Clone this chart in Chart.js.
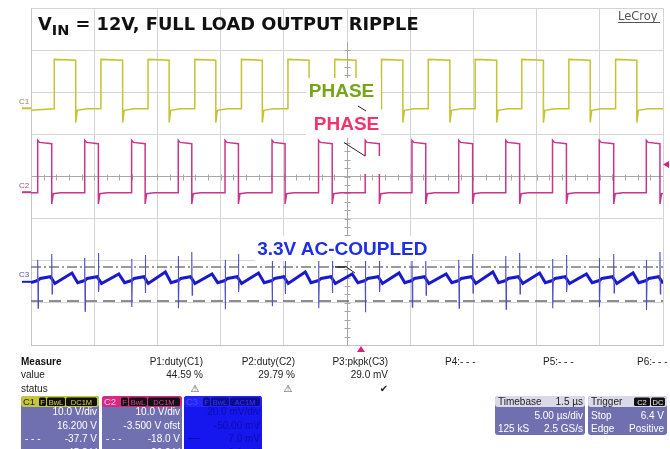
<!DOCTYPE html>
<html>
<head>
<meta charset="utf-8">
<title>Full load output ripple</title>
<script src="https://cdn.jsdelivr.net/npm/chart.js"></script>
<style>
  body { margin: 0; background: #fff; }
  #wrap { position: relative; width: 670px; height: 449px; overflow: hidden; }
  #scope, #overlay { position: absolute; left: 0; top: 0; }
  #overlay text { font-family: "Liberation Sans", Arial, sans-serif; }
</style>
</head>
<body>
<div id="wrap">
  <canvas id="scope" width="670" height="449"></canvas>
  <svg id="overlay" width="670" height="449">
    <!-- title -->
    <text x="38" y="30" style="font-family:'DejaVu Sans';font-weight:bold;font-size:17.8px" fill="#111">V<tspan dy="5" style="font-size:14.5px">IN</tspan><tspan dy="-5"> = 12V, FULL LOAD OUTPUT RIPPLE</tspan></text>
    <text x="618" y="20" style="font-family:'DejaVu Sans';font-size:11.5px" fill="#555">LeCroy</text>
    <line x1="618" y1="22.5" x2="660" y2="22.5" stroke="#555" stroke-width="1"/>

    <!-- trace annotations -->
    <rect x="306" y="78" width="75" height="60" fill="#fff"/>
    <rect x="361" y="156" width="21" height="18" fill="#fff"/>
    <text x="341.5" y="97" text-anchor="middle" style="font-weight:bold;font-size:19px" fill="#78a418">PHASE</text>
    <text x="346.5" y="130" text-anchor="middle" style="font-weight:bold;font-size:19px" fill="#f2346c">PHASE</text>
    <line x1="344" y1="142.5" x2="365" y2="156" stroke="#222" stroke-width="1"/>
    <line x1="358" y1="106" x2="366" y2="111" stroke="#222" stroke-width="1"/>
    <rect x="255" y="236" width="176" height="25" fill="#fff"/>
    <text x="342.3" y="255" text-anchor="middle" style="font-weight:bold;font-size:19px" fill="#1f2ee8">3.3V AC-COUPLED</text>
    <line x1="335" y1="267" x2="345" y2="267" stroke="#222" stroke-width="1.5"/>
    <line x1="345" y1="266" x2="355" y2="273" stroke="#222" stroke-width="1"/>

    <!-- channel ground markers -->
    <text x="19" y="104" style="font-size:8px" fill="#8c8c50">C1</text>
    <line x1="22" y1="108.3" x2="31" y2="108.3" stroke="#c4c430" stroke-width="2"/>
    <text x="19" y="188" style="font-size:8px" fill="#a05080">C2</text>
    <line x1="22" y1="192.2" x2="31" y2="192.2" stroke="#c8368a" stroke-width="2"/>
    <text x="19" y="277" style="font-size:8px" fill="#5050a0">C3</text>
    <line x1="22" y1="281.8" x2="31" y2="281.8" stroke="#1a1acc" stroke-width="2"/>

    <!-- trigger markers -->
    <polygon points="663,164.5 669,161 669,168" fill="#d6207a"/>
    <polygon points="361,346 357,352 365,352" fill="#d6207a"/>

    <!-- measurements -->
    <text x="21" y="365" style="font-weight:bold;font-size:10px" fill="#111">Measure</text>
    <text x="21" y="378" style="font-size:10px" fill="#222">value</text>
    <text x="21" y="392" style="font-size:10px" fill="#222">status</text>
    <text x="203" y="365" text-anchor="end" style="font-size:10px" fill="#222">P1:duty(C1)</text>
    <text x="203" y="378" text-anchor="end" style="font-size:10px" fill="#222">44.59 %</text>
    <text x="195" y="392" text-anchor="middle" style="font-family:'DejaVu Sans';font-size:10px" fill="#555">⚠</text>
    <text x="295" y="365" text-anchor="end" style="font-size:10px" fill="#222">P2:duty(C2)</text>
    <text x="295" y="378" text-anchor="end" style="font-size:10px" fill="#222">29.79 %</text>
    <text x="288" y="392" text-anchor="middle" style="font-family:'DejaVu Sans';font-size:10px" fill="#555">⚠</text>
    <text x="388" y="365" text-anchor="end" style="font-size:10px" fill="#222">P3:pkpk(C3)</text>
    <text x="388" y="378" text-anchor="end" style="font-size:10px" fill="#222">29.0 mV</text>
    <text x="384" y="392" text-anchor="middle" style="font-family:'DejaVu Sans';font-size:10px" fill="#222">✔</text>
    <text x="445" y="365" style="font-size:10px" fill="#222">P4:- - -</text>
    <text x="543" y="365" style="font-size:10px" fill="#222">P5:- - -</text>
    <text x="637" y="365" style="font-size:10px" fill="#222">P6:- - -</text>

    <!-- C1 box -->
    <rect x="21" y="396" width="78" height="64" rx="3" fill="#7070b0"/>
    <rect x="21" y="396" width="78" height="11" rx="3" fill="#c6c63c"/>
    <text x="23" y="405" style="font-size:9.5px" fill="#222">C1</text>
    <rect x="39" y="397.5" width="7" height="8.5" rx="1.5" fill="#111"/>
    <text x="42.5" y="404.6" text-anchor="middle" style="font-size:7.5px" fill="#d8d840">F</text>
    <rect x="47" y="397.5" width="18" height="8.5" rx="1.5" fill="#111"/>
    <text x="56" y="404.6" text-anchor="middle" style="font-size:7.5px" fill="#d8d840">BwL</text>
    <rect x="66" y="397.5" width="31" height="8.5" rx="1.5" fill="#111"/>
    <text x="81.5" y="404.6" text-anchor="middle" style="font-size:7.5px" fill="#d8d840">DC1M</text>
    <text x="97" y="415" text-anchor="end" style="font-size:10px" fill="#fff">10.0 V/div</text>
    <text x="97" y="428.5" text-anchor="end" style="font-size:10px" fill="#fff">16.200 V</text>
    <text x="25" y="441.5" style="font-size:10px" fill="#fff">- - -</text>
    <text x="97" y="442" text-anchor="end" style="font-size:10px" fill="#fff">-37.7 V</text>
    <text x="97" y="455.5" text-anchor="end" style="font-size:10px" fill="#fff">-45.8 V</text>

    <!-- C2 box -->
    <rect x="102" y="396" width="80" height="64" rx="3" fill="#7070b0"/>
    <rect x="102" y="396" width="80" height="11" rx="3" fill="#d42a80"/>
    <text x="104" y="405" style="font-size:9.5px" fill="#f6c8e0">C2</text>
    <rect x="121" y="397.5" width="7" height="8.5" rx="1.5" fill="#111"/>
    <text x="124.5" y="404.6" text-anchor="middle" style="font-size:7.5px" fill="#e04090">F</text>
    <rect x="129" y="397.5" width="18" height="8.5" rx="1.5" fill="#111"/>
    <text x="138" y="404.6" text-anchor="middle" style="font-size:7.5px" fill="#e04090">BwL</text>
    <rect x="148" y="397.5" width="32" height="8.5" rx="1.5" fill="#111"/>
    <text x="164" y="404.6" text-anchor="middle" style="font-size:7.5px" fill="#e04090">DC1M</text>
    <text x="180" y="415" text-anchor="end" style="font-size:10px" fill="#fff">10.0 V/div</text>
    <text x="180" y="428.5" text-anchor="end" style="font-size:10px" fill="#fff">-3.500 V ofst</text>
    <text x="106" y="441.5" style="font-size:10px" fill="#fff">- - -</text>
    <text x="180" y="442" text-anchor="end" style="font-size:10px" fill="#fff">-18.0 V</text>
    <text x="180" y="455.5" text-anchor="end" style="font-size:10px" fill="#fff">-26.0 V</text>

    <!-- C3 box -->
    <rect x="184" y="396" width="78" height="64" rx="3" fill="#1616ee"/>
    <rect x="184" y="396" width="78" height="11" rx="3" fill="#2424f6"/>
    <text x="186" y="405" style="font-size:9.5px" fill="#4a4aff">C3</text>
    <rect x="203" y="397.5" width="7" height="8.5" rx="1.5" fill="#0c0c90"/>
    <text x="206.5" y="404.6" text-anchor="middle" style="font-size:7.5px" fill="#3a3aff">F</text>
    <rect x="211" y="397.5" width="18" height="8.5" rx="1.5" fill="#0c0c90"/>
    <text x="220" y="404.6" text-anchor="middle" style="font-size:7.5px" fill="#3a3aff">BwL</text>
    <rect x="230" y="397.5" width="30" height="8.5" rx="1.5" fill="#0c0c90"/>
    <text x="245" y="404.6" text-anchor="middle" style="font-size:7.5px" fill="#3a3aff">AC1M</text>
    <text x="260" y="415" text-anchor="end" style="font-size:10px" fill="#0c0cb0">20.0 mV/div</text>
    <text x="260" y="428.5" text-anchor="end" style="font-size:10px" fill="#0c0cb0">-50.00 mV</text>
    <line x1="188" y1="438.5" x2="200" y2="438.5" stroke="#0c0cb0" stroke-width="1"/>
    <text x="260" y="442" text-anchor="end" style="font-size:10px" fill="#0c0cb0">7.0 mV</text>
    <text x="260" y="455.5" text-anchor="end" style="font-size:10px" fill="#0c0cb0">-9.1 mV</text>

    <!-- timebase box -->
    <rect x="495" y="396" width="90" height="39" rx="3" fill="#7070b0"/>
    <rect x="495" y="396" width="90" height="11" rx="3" fill="#d9d9e8"/>
    <text x="498" y="405" style="font-size:10px" fill="#222">Timebase</text>
    <text x="583" y="405" text-anchor="end" style="font-size:10px" fill="#222">1.5 µs</text>
    <text x="583" y="418.5" text-anchor="end" style="font-size:10px" fill="#fff">5.00 µs/div</text>
    <text x="498" y="431.5" style="font-size:10px" fill="#fff">125 kS</text>
    <text x="583" y="431.5" text-anchor="end" style="font-size:10px" fill="#fff">2.5 GS/s</text>

    <!-- trigger box -->
    <rect x="588" y="396" width="79" height="39" rx="3" fill="#7070b0"/>
    <rect x="588" y="396" width="79" height="11" rx="3" fill="#d9d9e8"/>
    <text x="591" y="405" style="font-size:10px" fill="#222">Trigger</text>
    <rect x="634" y="397.5" width="16" height="8.5" rx="1.5" fill="#111"/>
    <text x="642" y="404.6" text-anchor="middle" style="font-size:7.5px" fill="#eee">C2</text>
    <rect x="651" y="397.5" width="14" height="8.5" rx="1.5" fill="#111"/>
    <text x="658" y="404.6" text-anchor="middle" style="font-size:7.5px" fill="#eee">DC</text>
    <text x="591" y="418.5" style="font-size:10px" fill="#fff">Stop</text>
    <text x="664" y="418.5" text-anchor="end" style="font-size:10px" fill="#fff">6.4 V</text>
    <text x="591" y="431.5" style="font-size:10px" fill="#fff">Edge</text>
    <text x="664" y="431.5" text-anchor="end" style="font-size:10px" fill="#fff">Positive</text>
  </svg>
</div>

<script>
    // channel settings, as shown in the channel boxes
    const c1Setup = { vdiv: 10, ofst: 16.2 };    // V
    const c2Setup = { vdiv: 10, ofst: -3.5 };    // V
    const c3Setup = { vdiv: 20, ofst: -50 };     // mV

    // C1 (yellow) edges, µs
    const c1Rise = [1.84, 5.53, 9.26, 12.96, 16.65, 20.33, 24.03, 27.73, 31.43, 35.14, 38.83, 42.55, 46.25];
    const c1Fall = [3.54, 7.25, 10.93, 14.62, 18.30, 22.00, 25.71, 29.42, 33.14, 36.84, 40.54, 44.24, 47.93];
    // high, low, dip after falling edge, settle
    const c1Levels = [11.6, -0.1, -3.4, -0.5];

    // C2 (magenta) edges, µs
    const c2Rise = [0.53, 4.25, 7.96, 11.65, 15.35, 19.07, 22.75, 26.44, 30.14, 33.84, 37.56, 41.26, 44.96, 48.68];
    const c2Fall = [1.64, 5.33, 9.03, 12.72, 16.41, 20.10, 23.83, 27.56, 31.23, 34.94, 38.66, 42.36, 46.10, 49.76];
    // peak, high, low, dip after falling edge, settle
    const c2Levels = [12.1, 11.6, -0.35, -3.0, -0.6];

    // C3 (blue) ripple, mV
    const c3RiseHi = [10.4, 11.3, 10.8, 12.3, 10.4, 9.9, 11.8, 10.8, 11.3, 10.4, 12.3, 10.8, 11.3, 10.4];
    const c3RiseLo = [-12.5, -13.9, -12.0, -12.5, -13.0, -11.6, -12.5, -14.4, -12.0, -12.5, -13.0, -12.5, -12.0, -13.4];
    const c3FallHi = [13.2, 13.7, 12.7, 14.2, 13.2, 12.7, 13.7, 14.6, 12.7, 13.2, 13.7, 12.7, 13.2, 14.2];
    const c3FallLo = [-5.8, -4.8, -5.3, -6.3, -4.8, -5.8, -5.3, -4.8, -6.3, -5.3, -5.8, -4.8, -5.3, -5.8];
    const c3Peak = [4.2, 3.7, 4.7, 3.7, 4.2, 4.7, 3.7, 4.2, 3.7, 4.7, 4.2, 3.7, 4.2];
    // before rise spike, between spikes, after fall spike, after C1 fall
    const c3Base = [0.6, 1.6, -0.8, -0.4];

    // horizontal cursors on C3, mV
    const c3Cursors = [7.0, -9.1];

    function c1Trace() {
        const [hi, lo, dip, settle] = c1Levels;
        const pts = [{ x: 0, y: settle }];
        c1Rise.forEach((r, i) => {
            const f = c1Fall[i];
            pts.push({ x: r, y: lo }, { x: r, y: hi }, { x: f, y: hi - 0.2 },
                     { x: f, y: dip }, { x: f + 0.12, y: settle }, { x: f + 0.9, y: lo });
        });
        pts.push({ x: 50, y: lo });
        return pts;
    }

    function c2Trace() {
        const [peak, hi, lo, dip, settle] = c2Levels;
        const pts = [{ x: 0, y: lo }];
        c2Rise.forEach((r, i) => {
            const f = c2Fall[i];
            pts.push({ x: r, y: lo }, { x: r, y: peak }, { x: r + 0.15, y: hi },
                     { x: f, y: hi - 0.3 }, { x: f, y: dip }, { x: f + 0.12, y: settle }, { x: f + 0.7, y: lo });
        });
        return pts;
    }

    function c3Trace() {
        const pts = [{ x: 0, y: c3Base[3] }];
        c2Rise.forEach((r, i) => {
            const f = c2Fall[i];
            pts.push({ x: r, y: c3Base[0] }, { x: r + 0.2, y: c3Base[1] },
                     { x: f - 0.1, y: c3Base[1] + 0.8 }, { x: f + 0.25, y: c3Base[2] });
            if (i < c1Fall.length) {
                pts.push({ x: c1Fall[i] - 0.3, y: c3Peak[i] }, { x: c1Fall[i] + 0.15, y: c3Base[3] });
            }
        });
        return pts;
    }

    function c3Spikes() {
        const pts = [];
        c2Rise.forEach((r, i) => {
            const f = c2Fall[i];
            pts.push({ x: r, y: c3Base[0] }, { x: r, y: c3RiseHi[i] }, { x: r + 0.03, y: c3RiseLo[i] },
                     { x: r + 0.06, y: c3Base[1] }, { x: r + 0.07, y: null });
            pts.push({ x: f, y: c3Base[1] }, { x: f, y: c3FallHi[i] }, { x: f + 0.03, y: c3FallLo[i] },
                     { x: f + 0.06, y: c3Base[2] }, { x: f + 0.07, y: null });
        });
        return pts;
    }

    function cursor(v) {
        return [{ x: 0, y: v }, { x: 50, y: v }];
    }

    function range(setup) {
        return { min: -setup.ofst - 4 * setup.vdiv, max: -setup.ofst + 4 * setup.vdiv };
    }

    // darker centre cross with minor ticks
    const centreCross = {
        id: 'centreCross',
        beforeDatasetsDraw(chart) {
            const { ctx, scales: { x, y } } = chart;
            const cx = Math.round(x.getPixelForValue(25)) + 0.5;
            const cy = Math.round(y.getPixelForValue(4)) + 0.5;
            ctx.save();
            ctx.strokeStyle = '#a8a8a8';
            ctx.lineWidth = 1;
            ctx.beginPath();
            ctx.moveTo(cx, 42);
            ctx.lineTo(cx, y.getPixelForValue(0));
            for (let t = 1; t < 50; t++) {
                const px = Math.round(x.getPixelForValue(t)) + 0.5;
                ctx.moveTo(px, cy - 3);
                ctx.lineTo(px, cy + 3);
            }
            for (let d = 1; d < 40; d++) {
                const py = Math.round(y.getPixelForValue(d / 5)) + 0.5;
                if (py < 44) continue;
                ctx.moveTo(cx - 3, py);
                ctx.lineTo(cx + 3, py);
            }
            ctx.stroke();
            ctx.restore();
        }
    };

    const ctx = document.getElementById('scope').getContext('2d');

    new Chart(ctx, {
        type: 'scatter',
        data: {
            datasets: [
                { data: c1Trace(), yAxisID: 'c1', showLine: true, borderColor: '#c4c430', borderWidth: 1.5 },
                { data: c2Trace(), yAxisID: 'c2', showLine: true, borderColor: '#c8368a', borderWidth: 1.5 },
                { data: c3Spikes(), yAxisID: 'c3', showLine: true, spanGaps: false, borderColor: '#5050c4', borderWidth: 1.1 },
                { data: c3Trace(), yAxisID: 'c3', showLine: true, borderColor: '#1a1acc', borderWidth: 3 },
                { data: cursor(c3Cursors[0]), yAxisID: 'c3', showLine: true, borderColor: '#7a7a7a', borderWidth: 1.5, borderDash: [10, 3, 2, 3] },
                { data: cursor(c3Cursors[1]), yAxisID: 'c3', showLine: true, borderColor: '#6a6a6a', borderWidth: 1.5, borderDash: [12, 6] }
            ]
        },
        options: {
            responsive: false,
            animation: false,
            layout: { padding: { left: 31, top: 8, right: 7, bottom: 104 } },
            elements: { point: { radius: 0 }, line: { tension: 0 } },
            plugins: { legend: { display: false }, tooltip: { enabled: false } },
            scales: {
                x: {
                    type: 'linear', min: 0, max: 50,
                    ticks: { display: false, stepSize: 5 },
                    grid: { color: '#d4d4d4', drawTicks: false },
                    border: { color: '#c4c4c4' }
                },
                y: {
                    min: 0, max: 8,
                    ticks: { display: false, stepSize: 1 },
                    grid: { color: (c) => c.tick.value === 4 ? '#a8a8a8' : '#d4d4d4', drawTicks: false },
                    border: { color: '#c4c4c4' }
                },
                c1: Object.assign({ axis: 'y', position: 'left', display: false }, range(c1Setup)),
                c2: Object.assign({ axis: 'y', position: 'left', display: false }, range(c2Setup)),
                c3: Object.assign({ axis: 'y', position: 'left', display: false }, range(c3Setup))
            }
        },
        plugins: [centreCross]
    });
</script>
</body>
</html>
